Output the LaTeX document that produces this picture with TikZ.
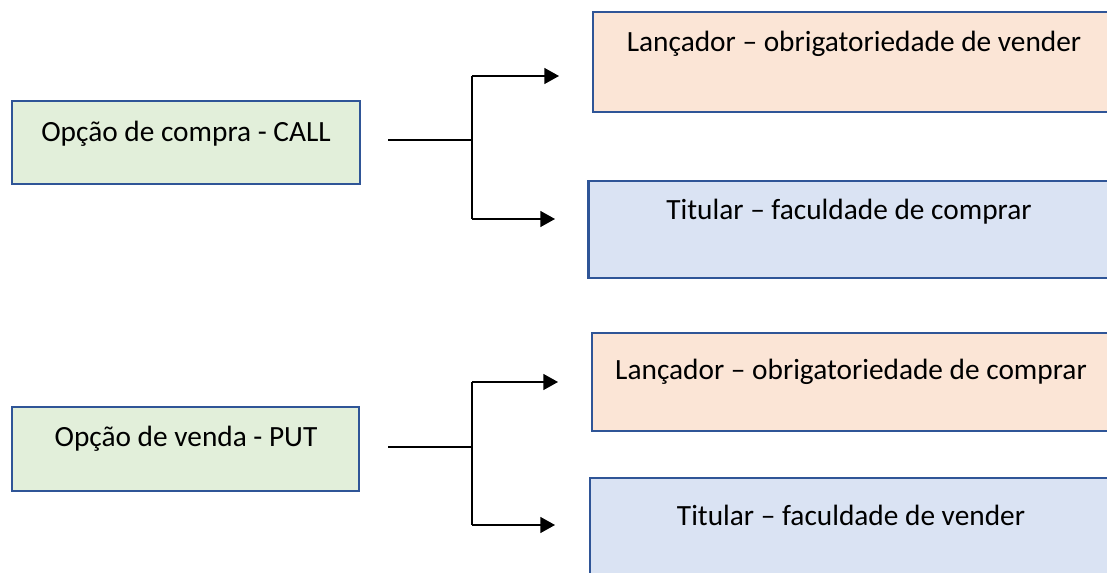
\documentclass[tikz,border=0pt]{standalone}
\usepackage{fontspec}
\setmainfont{Carlito}
\usetikzlibrary{arrows.meta}
\definecolor{boxedge}{HTML}{2F5597}
\definecolor{greenfill}{HTML}{E2EFDA}
\definecolor{orangefill}{HTML}{FBE5D6}
\definecolor{bluefill}{HTML}{DAE3F3}
\tikzset{
  panel/.style={draw=boxedge, line width=1.9pt, inner sep=0pt},
  greenbox/.style={panel, fill=greenfill},
  orangebox/.style={panel, fill=orangefill},
  bluebox/.style={panel, fill=bluefill},
  caption/.style={anchor=base, inner sep=0pt, font=\fontsize{22}{26}\selectfont},
  link/.style={line width=1pt, black},
  linkarrow/.style={link, -{Triangle[length=11pt,width=12pt]}}
}
\begin{document}
\begin{tikzpicture}[x=0.75pt, y=-0.75pt]
\useasboundingbox (0,0) rectangle (1107,573);
\clip (0,0) rectangle (1107,573);

% call option block
\node[greenbox, minimum width=348*0.75pt, minimum height=83*0.75pt] (call) at (186,142.5) {};
\node[orangebox, minimum width=522*0.75pt, minimum height=100*0.75pt] (callwriter) at (854,62) {};
\node[bluebox, minimum width=521*0.75pt, minimum height=97*0.75pt] (callholder) at (849,229.5) {};
\node[caption] (calltext) at (186,141.7) {Opção de compra - CALL};
\node[caption] (callwritertext) at (854,51.7) {Lançador – obrigatoriedade de vender};
\node[caption] (callholdertext) at (849,220) {Titular – faculdade de comprar};

% put option block
\node[greenbox, minimum width=347*0.75pt, minimum height=84*0.75pt] (put) at (185.5,449) {};
\node[orangebox, minimum width=518*0.75pt, minimum height=98*0.75pt] (putwriter) at (851,382) {};
\node[bluebox, minimum width=522*0.75pt, minimum height=97*0.75pt] (putholder) at (851,526.5) {};
\node[caption] (puttext) at (186,446.7) {Opção de venda - PUT};
\node[caption] (putwritertext) at (851,380) {Lançador – obrigatoriedade de comprar};
\node[caption] (putholdertext) at (851,526) {Titular – faculdade de vender};

% branching connectors
\coordinate (c0) at (388,140);
\coordinate (cj) at (472,140);
\coordinate (cup) at (472,76);
\coordinate (cdn) at (472,219);
\coordinate (cupend) at (559,76);
\coordinate (cdnend) at (555,219);
\draw[link] (c0) -- (cj);
\draw[link] (cup) -- (cdn);
\draw[linkarrow] (cup) -- (cupend);
\draw[linkarrow] (cdn) -- (cdnend);

\coordinate (p0) at (388,447);
\coordinate (pj) at (472,447);
\coordinate (pup) at (472,382);
\coordinate (pdn) at (472,525);
\coordinate (pupend) at (558,382);
\coordinate (pdnend) at (555,525);
\draw[link] (p0) -- (pj);
\draw[link] (pup) -- (pdn);
\draw[linkarrow] (pup) -- (pupend);
\draw[linkarrow] (pdn) -- (pdnend);
\end{tikzpicture}
\end{document}
